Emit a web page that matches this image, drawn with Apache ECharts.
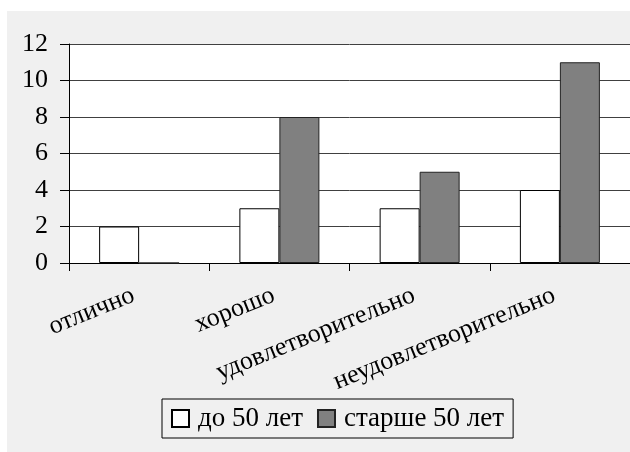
<!DOCTYPE html>
<html>
<head>
<meta charset="utf-8">
<script src="https://cdn.jsdelivr.net/npm/echarts@6/dist/echarts.min.js"></script>
<style>
html,body{margin:0;padding:0;background:#fff;}
#chart{width:630px;height:452px;}
</style>
</head>
<body>
<div id="chart"></div>
<script>
const categories = ['отлично', 'хорошо', 'удовлетворительно', 'неудовлетворительно'];
const seriesNames = ['до 50 лет', 'старше 50 лет'];
const under50 = [2, 3, 3, 4];
const over50 = [0, 8, 5, 11];
const yMin = 0, yMax = 12, yStep = 2;

const FONT = 'Liberation Serif';
const chart = echarts.init(document.getElementById('chart'), null, {renderer: 'canvas'});
chart.setOption({
  animation: false,
  backgroundColor: '#fff',
  textStyle: {fontFamily: FONT},
  graphic: [{
    type: 'rect', z: -100, silent: true,
    shape: {x: 7, y: 11, width: 623, height: 441},
    style: {fill: '#f0f0f0'}
  }],
  grid: {
    left: 69, top: 44, width: 563, height: 219,
    show: true, backgroundColor: '#fff', borderWidth: 0
  },
  legend: {
    data: seriesNames,
    left: 162, top: 399,
    icon: 'rect', itemWidth: 17, itemHeight: 17, itemGap: 14,
    padding: [6, 9, 6, 9],
    borderColor: '#000', borderWidth: 1, backgroundColor: '#f0f0f0',
    textStyle: {fontFamily: FONT, fontSize: 27, color: '#000', lineHeight: 26, padding: [0, 0, 0, 4]}
  },
  xAxis: {
    type: 'category', data: categories,
    axisLine: {lineStyle: {color: '#000', width: 1}},
    axisTick: {show: true, length: 8, lineStyle: {color: '#000'}},
    axisLabel: {
      interval: 0, rotate: 22, margin: 29, padding: [0, 6, 0, 0],
      fontFamily: FONT, fontSize: 26, color: '#000'
    },
    splitLine: {show: false}
  },
  yAxis: {
    type: 'value', min: yMin, max: yMax, interval: yStep,
    axisLine: {show: true, lineStyle: {color: '#000', width: 1}},
    axisTick: {show: true, length: 9, lineStyle: {color: '#000'}},
    axisLabel: {margin: 21, fontFamily: FONT, fontSize: 26, color: '#000'},
    splitLine: {show: true, lineStyle: {color: '#404040', width: 1}}
  },
  series: [{
    name: seriesNames[0], type: 'bar', data: under50,
    barWidth: 40, barGap: '0%',
    itemStyle: {color: '#ffffff', borderColor: '#000', borderWidth: 1}
  }, {
    name: seriesNames[1], type: 'bar', data: over50,
    barWidth: 40, barGap: '0%',
    itemStyle: {color: '#808080', borderColor: '#222', borderWidth: 1}
  }]
});
</script>
</body>
</html>
